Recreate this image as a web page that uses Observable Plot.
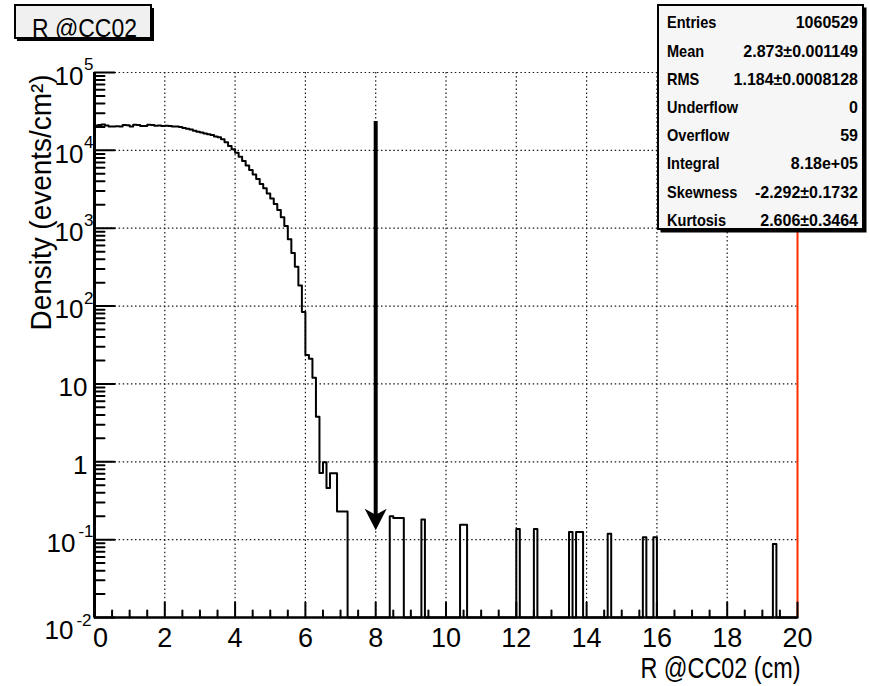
<!DOCTYPE html>
<html>
<head>
<meta charset="utf-8">
<script src="https://cdn.jsdelivr.net/npm/d3@7"></script>
<script src="https://cdn.jsdelivr.net/npm/@observablehq/plot@0.6"></script>
<style>
  body { margin: 0; background: #fff; }
  #wrap { position: relative; width: 870px; height: 686px; }
  #overlay { position: absolute; left: 0; top: 0; pointer-events: none; }
</style>
</head>
<body>
<div id="wrap"></div>
<script>
// Radial density at CC02, 0.1 cm bins
const BIN_WIDTH = 0.1;
const N_BINS = 200;

// bins 0.0–7.2 cm (events/cm^2)
const coreDensity = [
  20900, 21200, 21500, 20800, 20300, 20200, 20400, 20300, 21100, 21000,
  20300, 21300, 21200, 20500, 20600, 21300, 21200, 20700, 20800, 20600,
  20700, 20600, 20300, 20200, 19900, 19400, 18900, 18500, 17800, 17400,
  17000, 16500, 16100, 15700, 15100, 14700, 13900, 12700, 11400, 10300,
  9300, 8300, 7300, 6400, 5600, 4900, 4300, 3700, 3250, 2800,
  2400, 2050, 1720, 1380, 1070, 720, 480, 320, 184, 84,
  23.5, 21, 12, 3.8, 0.72, 0.99, 0.46, 0.71, 0.71, 0.23,
  0.23, 0.23
];

// isolated entries in the tail: lower bin edge (cm) and density
const tailLowEdge = [8.4, 8.5, 8.6, 8.7, 9.3, 10.4, 10.5, 12.0, 12.5, 13.5, 13.7, 13.8, 14.6, 15.6, 15.9, 19.3];
const tailDensity = [0.200, 0.189, 0.189, 0.189, 0.181, 0.155, 0.155, 0.137, 0.137, 0.125, 0.125, 0.125, 0.119, 0.107, 0.107, 0.088];

// axis ticks and labels
const xMajorTicks = [0, 2, 4, 6, 8, 10, 12, 14, 16, 18, 20];
const xGrid = [2, 4, 6, 8, 10, 12, 14, 16, 18];
const yDecades = [0.01, 0.1, 1, 10, 100, 1000, 10000, 100000];
const yGrid = [0.1, 1, 10, 100, 1000, 10000, 100000];
const yTickValues = [100000, 10000, 1000, 100, 10, 1, 0.1, 0.01];
const yTickBase = ["10", "10", "10", "10", "10", "1", "10", "10"];
const yTickExp = ["5", "4", "3", "2", "", "", "-1", "-2"];

// cut marker
const arrowX = 8.0;
const arrowTop = 23500;
const arrowShaftEnd = 0.18;
const arrowTip = 0.132;

// statistics panel
const statsLabels = ["Entries", "Mean", "RMS", "Underflow", "Overflow", "Integral", "Skewness", "Kurtosis"];
const statsValues = ["1060529", "2.873\u00b10.001149", "1.184\u00b10.0008128", "0", "59", "8.18e+05", "-2.292\u00b10.1732", "2.606\u00b10.3464"];

const histTitle = "R @CC02";
const xTitle = "R @CC02 (cm)";
const yTitle = "Density (events/cm\u00b2)";

// ---- build the histogram outline ----
const density = new Array(N_BINS).fill(0);
coreDensity.forEach((v, i) => { density[i] = v; });
tailLowEdge.forEach((lo, j) => { density[Math.round(lo / BIN_WIDTH)] = tailDensity[j]; });
const FLOOR = yDecades[0];
const outline = density.flatMap((v, i) => {
  const y = v > 0 ? v : FLOOR;
  return [{x: i * BIN_WIDTH, y}, {x: (i + 1) * BIN_WIDTH, y}];
});

const xMinorTicks = d3.range(0.5, 20, 0.5).filter(t => t % 2 !== 0);
const yMinorTicks = yDecades.slice(0, -1).flatMap(d => d3.range(2, 10).map(k => d * k));

const yLabelRows = yTickValues.map((v, i) => ({v, base: yTickBase[i], exp: yTickExp[i]}));
const bottomValue = yDecades[0];

// line-shaped vector for inward ticks
const tickShape = { draw(ctx, l) { ctx.moveTo(0, 0); ctx.lineTo(0, -l); } };
// notched arrowhead, tip at the anchor point
const arrowHead = {
  draw(ctx, size) {
    const r = Math.sqrt(size / Math.PI);
    ctx.moveTo(0, 0);
    ctx.lineTo(-r, -1.95 * r);
    ctx.lineTo(0, -1.4 * r);
    ctx.lineTo(r, -1.95 * r);
    ctx.closePath();
  }
};

const FONT = "'Liberation Sans', Arial, Helvetica, sans-serif";
const gridStyle = {stroke: "#1a1a1a", strokeWidth: 1.2, strokeDasharray: "1.5,2.6"};
const LABEL_SIZE = 26;
const EXP_SIZE = 17;

const chart = Plot.plot({
  width: 870,
  height: 686,
  marginLeft: 94,
  marginRight: 73,
  marginTop: 72,
  marginBottom: 69,
  style: {fontFamily: FONT, background: "#fff", color: "#000"},
  x: {domain: [0, 20], axis: null},
  y: {type: "log", domain: [0.01, 100000], axis: null},
  marks: [
    Plot.ruleX(xGrid, gridStyle),
    Plot.ruleY(yGrid, gridStyle),
    Plot.ruleX([20], {stroke: "#ff2a00", strokeWidth: 2}),
    Plot.line(outline, {x: "x", y: "y", stroke: "#000", strokeWidth: 2}),
    // arrow
    Plot.ruleX([arrowX], {y1: () => arrowTop, y2: () => arrowShaftEnd, stroke: "#000", strokeWidth: 4}),
    Plot.dot([arrowTip], {x: () => arrowX, y: d => d, symbol: arrowHead, r: 11, fill: "#000", stroke: "none"}),
    // axes
    Plot.ruleX([0], {stroke: "#000", strokeWidth: 3}),
    Plot.ruleY([0.01], {stroke: "#000", strokeWidth: 2.6}),
    Plot.vector(xMajorTicks, {x: d => d, y: () => 0.01, length: 15, rotate: 0, anchor: "start", shape: tickShape, stroke: "#000", strokeWidth: 2}),
    Plot.vector(xMinorTicks, {x: d => d, y: () => 0.01, length: 7, rotate: 0, anchor: "start", shape: tickShape, stroke: "#000", strokeWidth: 2}),
    Plot.vector(yDecades, {x: () => 0, y: d => d, length: 20, rotate: 90, anchor: "start", shape: tickShape, stroke: "#000", strokeWidth: 2}),
    Plot.vector(yMinorTicks, {x: () => 0, y: d => d, length: 10, rotate: 90, anchor: "start", shape: tickShape, stroke: "#000", strokeWidth: 2}),
    // x tick labels (the origin label sits just right of the corner)
    Plot.text(xMajorTicks, {filter: d => d !== 0, x: d => d, y: () => 0.01, text: d => String(d), dy: 21, fontSize: 27, fill: "#000"}),
    Plot.text(xMajorTicks, {filter: d => d === 0, x: d => d, y: () => 0.01, text: d => String(d), dx: 6, dy: 21, fontSize: 27, fill: "#000"}),
    // y tick labels: mantissa and exponent
    Plot.text(yLabelRows, {filter: d => d.exp.length === 1, x: () => 0, y: "v", text: "base", textAnchor: "end", dx: -11, dy: 4, fontSize: LABEL_SIZE, fill: "#000"}),
    Plot.text(yLabelRows, {filter: d => d.exp.length === 0, x: () => 0, y: "v", text: "base", textAnchor: "end", dx: -7, dy: 4, fontSize: LABEL_SIZE, fill: "#000"}),
    Plot.text(yLabelRows, {filter: d => d.exp.length === 2 && d.v !== bottomValue, x: () => 0, y: "v", text: "base", textAnchor: "end", dx: -19, dy: 4, fontSize: LABEL_SIZE, fill: "#000"}),
    Plot.text(yLabelRows, {filter: d => d.v === bottomValue, x: () => 0, y: "v", text: "base", textAnchor: "end", dx: -21, dy: 13, fontSize: LABEL_SIZE, fill: "#000"}),
    Plot.text(yLabelRows, {filter: d => d.exp.length > 0 && d.v !== bottomValue, x: () => 0, y: "v", text: "exp", textAnchor: "end", dx: -1, dy: -8, fontSize: EXP_SIZE, fill: "#000"}),
    Plot.text(yLabelRows, {filter: d => d.v === bottomValue, x: () => 0, y: "v", text: "exp", textAnchor: "end", dx: -3, dy: 3, fontSize: EXP_SIZE, fill: "#000"}),
    // axis titles
    Plot.text([xTitle], {frameAnchor: "bottom-right", textAnchor: "end", dx: 3, dy: 60, fontSize: 29, fill: "#000"}),
    Plot.text([yTitle], {frameAnchor: "top-left", rotate: -90, textAnchor: "end", dx: -64, dy: 2, fontSize: 29, fill: "#000"})
  ]
});

// squeeze the axis titles to the narrow face
d3.select(chart).selectAll("text").each(function () {
  const t = this.textContent;
  if (t === xTitle) d3.select(this).attr("textLength", 160).attr("lengthAdjust", "spacingAndGlyphs");
  if (t === yTitle) d3.select(this).attr("textLength", 256).attr("lengthAdjust", "spacingAndGlyphs");
});

const wrap = document.getElementById("wrap");
wrap.appendChild(chart);

// ---- title box and statistics panel ----
const ov = d3.select(wrap).append("svg")
  .attr("id", "overlay")
  .attr("width", 870).attr("height", 240)
  .style("font-family", FONT);

// title
ov.append("rect").attr("x", 17).attr("y", 8).attr("width", 137).attr("height", 33).attr("fill", "#000");
ov.append("rect").attr("x", 15).attr("y", 5).attr("width", 136).attr("height", 33)
  .attr("fill", "#f0f0f0").attr("stroke", "#000").attr("stroke-width", 2);
ov.append("text").attr("x", 84.5).attr("y", 36.5).attr("text-anchor", "middle")
  .attr("font-size", 26).attr("textLength", 105).attr("lengthAdjust", "spacingAndGlyphs")
  .text(histTitle);

// statistics
ov.append("rect").attr("x", 660.5).attr("y", 7.5).attr("width", 206).attr("height", 225).attr("fill", "#000");
ov.append("rect").attr("x", 658).attr("y", 5).attr("width", 205).attr("height", 224)
  .attr("fill", "#f6f6f6").attr("stroke", "#000").attr("stroke-width", 2);
const rows = ov.append("g").attr("font-weight", "bold").attr("font-size", 16);
statsLabels.forEach((label, i) => {
  const y = 28.3 + 28.2 * i;
  rows.append("text").attr("transform", `translate(667,${y}) scale(0.91,1)`).text(label);
  rows.append("text").attr("x", 858).attr("y", y).attr("text-anchor", "end").text(statsValues[i]);
});
</script>
</body>
</html>
